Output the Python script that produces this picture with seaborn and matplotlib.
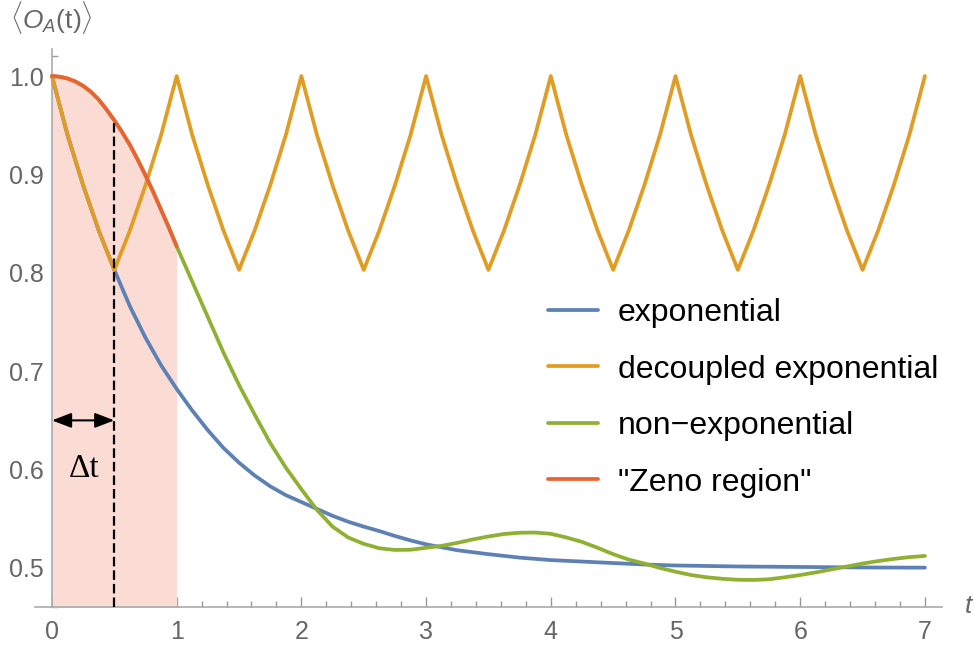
import matplotlib
matplotlib.use("Agg")
import matplotlib.pyplot as plt
import seaborn as sns
from matplotlib.ticker import MultipleLocator
from matplotlib.lines import Line2D

# exponential
exp_t = [0, 0.125, 0.25, 0.375, 0.5, 0.625, 0.75, 0.875, 1.0, 1.125, 1.25, 1.375,
         1.5, 1.625, 1.75, 1.875, 2.0, 2.125, 2.25, 2.375, 2.5, 2.625, 2.75, 2.875,
         3.0, 3.25, 3.5, 3.75, 4.0, 4.25, 4.5, 4.75, 5.0, 5.5, 6.0, 6.5, 7.0]
exp_v = [1.0, 0.94, 0.889, 0.843, 0.803, 0.766, 0.734, 0.706, 0.682, 0.660, 0.640, 0.622,
         0.607, 0.594, 0.583, 0.574, 0.567, 0.560, 0.553, 0.547, 0.542, 0.5375, 0.5325, 0.528,
         0.524, 0.518, 0.514, 0.5105, 0.508, 0.5065, 0.505, 0.5035, 0.5025, 0.5015, 0.501,
         0.5005, 0.5003]

# decoupled exponential (reset every period)
dec_t = [0, 0.125, 0.25, 0.375, 0.5, 0.625, 0.75, 0.875,
         1.0, 1.125, 1.25, 1.375, 1.5, 1.625, 1.75, 1.875,
         2.0, 2.125, 2.25, 2.375, 2.5, 2.625, 2.75, 2.875,
         3.0, 3.125, 3.25, 3.375, 3.5, 3.625, 3.75, 3.875,
         4.0, 4.125, 4.25, 4.375, 4.5, 4.625, 4.75, 4.875,
         5.0, 5.125, 5.25, 5.375, 5.5, 5.625, 5.75, 5.875,
         6.0, 6.125, 6.25, 6.375, 6.5, 6.625, 6.75, 6.875, 7.0]
dec_v = [1.0, 0.94, 0.889, 0.843, 0.803, 0.843, 0.889, 0.94,
         1.0, 0.94, 0.889, 0.843, 0.803, 0.843, 0.889, 0.94,
         1.0, 0.94, 0.889, 0.843, 0.803, 0.843, 0.889, 0.94,
         1.0, 0.94, 0.889, 0.843, 0.803, 0.843, 0.889, 0.94,
         1.0, 0.94, 0.889, 0.843, 0.803, 0.843, 0.889, 0.94,
         1.0, 0.94, 0.889, 0.843, 0.803, 0.843, 0.889, 0.94,
         1.0, 0.94, 0.889, 0.843, 0.803, 0.843, 0.889, 0.94, 1.0]

# "Zeno region" (short-time part of the non-exponential curve)
zeno_t = [0, 0.0625, 0.125, 0.1875, 0.25, 0.3125, 0.375, 0.4375, 0.5,
          0.5625, 0.625, 0.6875, 0.75, 0.8125, 0.875, 0.9375, 1.0]
zeno_v = [1.0, 0.9993, 0.9975, 0.9945, 0.990, 0.984, 0.976, 0.966, 0.955,
          0.943, 0.930, 0.915, 0.899, 0.882, 0.864, 0.846, 0.827]

# non-exponential (after the Zeno region)
nonexp_t = [1.125, 1.25, 1.375, 1.5, 1.625, 1.75, 1.875, 2.0, 2.125, 2.25, 2.375,
            2.5, 2.625, 2.75, 2.875, 3.0, 3.125, 3.25, 3.375, 3.5, 3.625, 3.75, 3.875,
            4.0, 4.125, 4.25, 4.375, 4.5, 4.625, 4.75, 4.875, 5.0, 5.125, 5.25, 5.375,
            5.5, 5.625, 5.75, 5.875, 6.0, 6.125, 6.25, 6.375, 6.5, 6.625, 6.75, 6.875, 7.0]
nonexp_v = [0.791, 0.755, 0.719, 0.686, 0.656, 0.627, 0.602, 0.580, 0.559, 0.542, 0.531,
            0.5245, 0.520, 0.5183, 0.5185, 0.5205, 0.5225, 0.5255, 0.529, 0.532, 0.5345, 0.5358, 0.536,
            0.5347, 0.531, 0.5265, 0.5205, 0.514, 0.5085, 0.5045, 0.500, 0.4962, 0.4928, 0.4905, 0.489,
            0.488, 0.4878, 0.4885, 0.4905, 0.4928, 0.4955, 0.4985, 0.5015, 0.5045, 0.507, 0.5092, 0.511, 0.5122]

labels = ["exponential", "decoupled exponential", "non\u2212exponential", '"Zeno region"']
colors = ["#5E81B5", "#E19C24", "#8FB032", "#EB6235"]

dt = 0.5
y_bottom, y_top = 0.46, 1.0275
x_left, x_right = -0.136, 7.137

sns.set_style("ticks")
plt.rcParams["font.family"] = ["Liberation Sans", "DejaVu Sans"]
plt.rcParams["mathtext.fontset"] = "custom"
plt.rcParams["mathtext.rm"] = "Liberation Sans"
plt.rcParams["mathtext.it"] = "Liberation Sans:italic"

fig = plt.figure(figsize=(9.74, 6.48), dpi=100)
ax = fig.add_axes([35 / 974, 40.7 / 648, (942 - 35) / 974, (607.3 - 49) / 648])

# shaded Zeno area
ax.fill_between(zeno_t, y_bottom, zeno_v, color="#FADCD5", lw=0, zorder=1)

lw = 2.7
full_nonexp_t = zeno_t + nonexp_t
full_nonexp_v = zeno_v + nonexp_v
sns.lineplot(x=exp_t, y=exp_v, color=colors[0], lw=lw, ax=ax, zorder=3)
sns.lineplot(x=dec_t, y=dec_v, color=colors[1], lw=lw, ax=ax, zorder=4)
sns.lineplot(x=full_nonexp_t, y=full_nonexp_v, color=colors[2], lw=lw, ax=ax, zorder=5)
sns.lineplot(x=zeno_t, y=zeno_v, color=colors[3], lw=lw, ax=ax, zorder=6)

# dashed marker at dt
ax.plot([dt, dt], [y_bottom, zeno_v[8]], color="k", lw=1.6, ls=(0, (4.3, 1.8)), zorder=7)
ax.annotate("", xy=(0, 0.65), xytext=(dt, 0.65),
            arrowprops=dict(arrowstyle="<|-|>,head_length=0.65,head_width=0.25",
                            color="k", lw=1.5, mutation_scale=18,
                            shrinkA=0, shrinkB=0), zorder=8)
ax.text(0.257, 0.601, "\u0394t", family=["Liberation Serif", "DejaVu Serif"], fontsize=24,
        ha="center", va="center", color="k")

ax.set_xlim(x_left, x_right)
ax.set_ylim(y_bottom, y_top)
ax.spines["left"].set_position(("data", 0))
ax.spines["top"].set_visible(False)
ax.spines["right"].set_visible(False)
for s in ["left", "bottom"]:
    ax.spines[s].set_color("#aaaaaa")
    ax.spines[s].set_linewidth(1.2)

ax.set_xticks(range(0, 8))
ax.xaxis.set_minor_locator(MultipleLocator(0.2))
ax.set_yticks([0.5, 0.6, 0.7, 0.8, 0.9, 1.0])
ax.set_yticklabels(["0.5", "0.6", "0.7", "0.8", "0.9", "1.0"])
ax.yaxis.set_minor_locator(MultipleLocator(0.02))
ax.tick_params(which="both", direction="in", color="#999999", labelcolor="#666666",
               labelsize=18, width=1.0)
ax.tick_params(which="major", length=7.5)
ax.tick_params(which="minor", length=4)
ax.tick_params(axis="x", which="major", pad=9)
ax.tick_params(axis="y", which="major", pad=6)
ax.set_xlabel("")
ax.set_ylabel("")

handles = [Line2D([], [], color=c, lw=lw) for c in colors]
ax.legend(handles, labels, loc="upper left", bbox_to_anchor=(548 / 974, 1 - 298 / 648),
          bbox_transform=fig.transFigure, frameon=False, fontsize=23, labelcolor="black",
          handlelength=1.56, handletextpad=0.62, labelspacing=0.83,
          borderaxespad=0, borderpad=0)

fig.text(10 / 974, 1 - 17 / 648, r"$\langle O_A$(t)$\rangle$", color="#666666",
         fontsize=19, ha="left", va="center")
fig.text(968 / 974, 1 - 606 / 648, "t", color="#666666", fontsize=19, style="italic",
         ha="center", va="center")

fig.savefig("out.png", dpi=100)
